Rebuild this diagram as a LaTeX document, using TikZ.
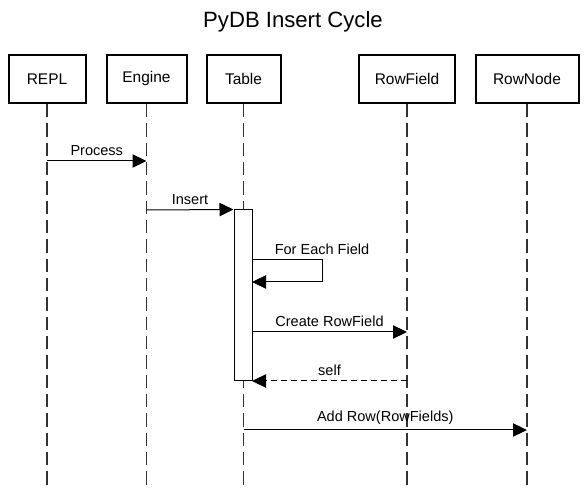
\documentclass[tikz,border=0pt]{standalone}
\usepackage{fontspec}
\setmainfont{Liberation Sans}
\usetikzlibrary{arrows.meta}

\begin{document}
\begin{tikzpicture}[x=0.75pt, y=-0.75pt,
    actor/.style={draw, line width=1.5pt, minimum width=#1, minimum height=36pt, inner sep=0pt, font=\fontsize{11.6}{14}\selectfont},
    life/.style={draw=black!80, line width=1.2pt, dash pattern=on 10pt off 4.5pt},
    actbox/.style={draw, fill=white, line width=0.75pt, minimum width=13.5pt, minimum height=128.25pt, inner sep=0pt},
    msg/.style={-{Triangle[length=10.5pt, width=10pt]}, line width=0.75pt},
    reply/.style={msg, dash pattern=on 4.5pt off 3pt},
    lbl/.style={font=\fontsize{10.9}{13}\selectfont, above, inner sep=3.5pt}]
    \useasboundingbox (0,0) rectangle (586,491);
    \node[font=\fontsize{16.6}{20}\selectfont] (title) at (293,22) {PyDB Insert Cycle};
    \node[actor=57.75pt] (repl) at (47,79) {REPL};
    \node[actor=60pt] (engine) at (146.5,79) {Engine};
    \node[actor=55.5pt] (table) at (243.5,79) {Table};
    \node[actor=72pt] (rowfield) at (407,79) {RowField};
    \node[actor=77.25pt] (rownode) at (527,79) {RowNode};
    \coordinate (repl-end) at (47,485);
    \coordinate (engine-end) at (146.5,485);
    \coordinate (table-end) at (243.5,485);
    \coordinate (rowfield-end) at (407,485);
    \coordinate (rownode-end) at (527,485);
    \draw[life] (repl.south) -- (repl-end);
    \draw[life] (engine.south) -- (engine-end);
    \draw[life] (table.south) -- (table-end);
    \draw[life] (rowfield.south) -- (rowfield-end);
    \draw[life] (rownode.south) -- (rownode-end);
    \node[actbox] (act) at (243,295.5) {};
    \coordinate (repl-p) at (47,161);
    \coordinate (engine-p) at (146.5,161);
    \coordinate (engine-i) at (146.5,210);
    \coordinate (loop-out) at (252,260);
    \coordinate (loop-in) at (252,282);
    \coordinate (act-c) at (252,332);
    \coordinate (rowfield-c) at (407,332);
    \coordinate (rowfield-s) at (407,381);
    \coordinate (act-s) at (252,381);
    \coordinate (table-a) at (243.5,430);
    \coordinate (rownode-a) at (527,430);
    \draw[msg] (repl-p) -- (engine-p) node[lbl, midway]{Process};
    \draw[msg] (engine-i) -- (act.north west) node[lbl, midway]{Insert};
    \draw[msg] (loop-out) -- ++(70,0) node[lbl]{For Each Field} |- (loop-in);
    \draw[msg] (act-c) -- (rowfield-c) node[lbl, midway]{Create RowField};
    \draw[reply] (rowfield-s) -- (act-s) node[lbl, midway]{self};
    \draw[msg] (table-a) -- (rownode-a) node[lbl, midway]{Add Row(RowFields)};
\end{tikzpicture}
\end{document}
